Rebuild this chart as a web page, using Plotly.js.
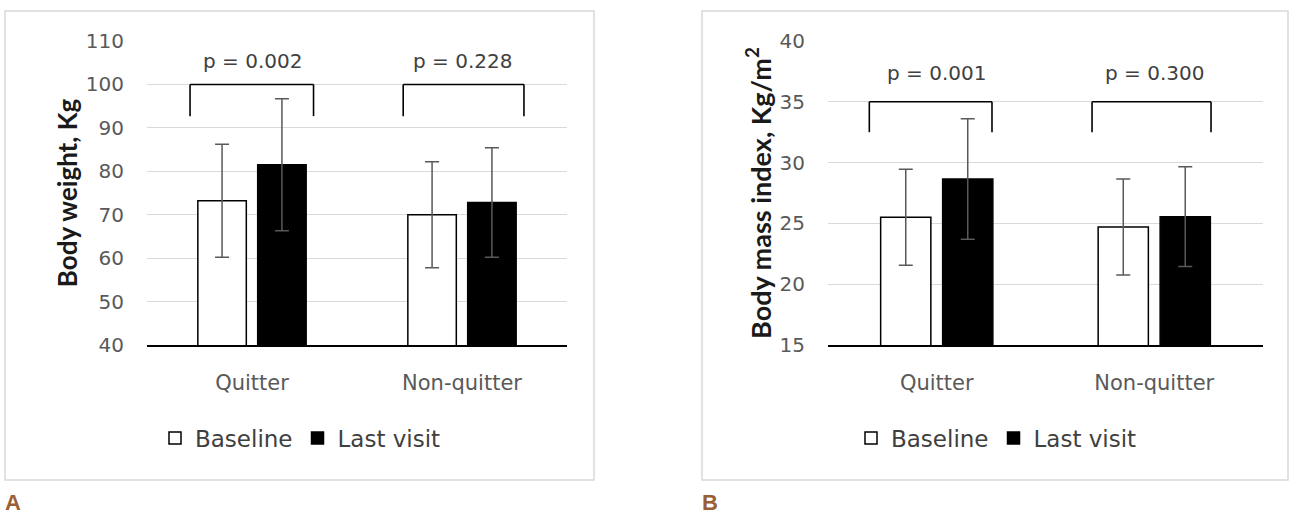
<!DOCTYPE html>
<html>
<head>
<meta charset="utf-8">
<script src="https://cdn.plot.ly/plotly-3.0.1.min.js"></script>
<style>
html,body{margin:0;padding:0;background:#fff;}
#chart{width:1293px;height:516px;}
</style>
</head>
<body>
<div id="chart"></div>
<script>
// ---- data ----
var groups = ["Quitter", "Non-quitter"];
var seriesNames = ["Baseline", "Last visit"];

// Panel A: body weight (Kg)
var weightBaseline = [73.2, 70.0];
var weightBaselineSD = [13.0, 12.2];
var weightLast = [81.5, 72.8];
var weightLastSD = [15.2, 12.6];
var weightP = ["p = 0.002", "p = 0.228"];
var weightTicks = [40, 50, 60, 70, 80, 90, 100, 110];

// Panel B: body mass index (Kg/m2)
var bmiBaseline = [25.5, 24.7];
var bmiBaselineSD = [3.95, 3.95];
var bmiLast = [28.65, 25.55];
var bmiLastSD = [4.95, 4.1];
var bmiP = ["p = 0.001", "p = 0.300"];
var bmiTicks = [15, 20, 25, 30, 35, 40];

var panelLabels = ["A", "B"];

// ---- helpers ----
var W = 1293, H = 516;
function px(x) { return x / W; }
function py(y) { return 1 - y / H; }

var FONT = "'DejaVu Sans', Verdana, sans-serif";
var TFONT = "Lato, 'Open Sans', sans-serif";
var errStyle = {type: "data", color: "#595959", thickness: 1.5, width: 7, visible: true};

function barTrace(name, xa, ya, vals, sd, fill, legendId) {
  return {
    type: "bar", name: name, x: groups, y: vals,
    xaxis: xa, yaxis: ya,
    marker: {color: fill, line: {color: "#000", width: 1.5}},
    error_y: Object.assign({array: sd}, errStyle),
    legend: legendId, showlegend: true, hoverinfo: "skip"
  };
}

var traces = [
  barTrace(seriesNames[0], "x", "y", weightBaseline, weightBaselineSD, "#ffffff", "legend"),
  barTrace(seriesNames[1], "x", "y", weightLast, weightLastSD, "#000000", "legend"),
  barTrace(seriesNames[0], "x2", "y2", bmiBaseline, bmiBaselineSD, "#ffffff", "legend2"),
  barTrace(seriesNames[1], "x2", "y2", bmiLast, bmiLastSD, "#000000", "legend2")
];

// significance brackets (category index units / data units)
function bracket(xref, yref, xl, xr, top, foot) {
  var ln = {color: "#000", width: 1.6};
  return [
    {type: "line", xref: xref, yref: yref, x0: xl, x1: xr, y0: top, y1: top, line: ln},
    {type: "line", xref: xref, yref: yref, x0: xl, x1: xl, y0: top, y1: foot, line: ln},
    {type: "line", xref: xref, yref: yref, x0: xr, x1: xr, y0: top, y1: foot, line: ln}
  ];
}

var shapes = [];
// panel frames
shapes.push({type: "rect", xref: "paper", yref: "paper", x0: px(5), x1: px(594), y0: py(480), y1: py(11), line: {color: "#d9d9d9", width: 1.5}, layer: "below"});
shapes.push({type: "rect", xref: "paper", yref: "paper", x0: px(702), x1: px(1288), y0: py(480), y1: py(11), line: {color: "#d9d9d9", width: 1.5}, layer: "below"});
shapes = shapes
  .concat(bracket("x", "y", -0.295, 0.293, 100, 92.7))
  .concat(bracket("x", "y", 0.72, 1.295, 100, 92.7))
  .concat(bracket("x2", "y2", -0.31, 0.254, 35, 32.5))
  .concat(bracket("x2", "y2", 0.714, 1.261, 35, 32.5));

var annotations = [];
for (var i = 0; i < groups.length; i++) {
  annotations.push({xref: "x", yref: "y", x: i, y: 105.5, text: weightP[i], showarrow: false,
    font: {family: FONT, size: 20, color: "#404040"}, xanchor: "center", yanchor: "middle"});
  annotations.push({xref: "x2", yref: "y2", x: i, y: 37.4, text: bmiP[i], showarrow: false,
    font: {family: FONT, size: 20, color: "#404040"}, xanchor: "center", yanchor: "middle"});
}
annotations.push({xref: "paper", yref: "paper", x: px(3), y: py(502), xanchor: "left", yanchor: "middle",
  text: "<b>" + panelLabels[0] + "</b>", showarrow: false, font: {family: "'Liberation Sans', Arial, sans-serif", size: 22, color: "#9c5f35"}});
annotations.push({xref: "paper", yref: "paper", x: px(700), y: py(502), xanchor: "left", yanchor: "middle",
  text: "<b>" + panelLabels[1] + "</b>", showarrow: false, font: {family: "'Liberation Sans', Arial, sans-serif", size: 22, color: "#9c5f35"}});

var tickFont = {family: FONT, size: 20, color: "#595959"};
var catFont = {family: FONT, size: 21, color: "#595959"};
var titleFont = {family: TFONT, size: 26, color: "#1a1a1a", weight: "bold"};

function xAxis(domain, anchor) {
  return {domain: domain, anchor: anchor, type: "category", showline: true, linecolor: "#000", linewidth: 1.6,
    showgrid: false, zeroline: false, ticks: "", tickfont: catFont, ticklabelstandoff: 18, fixedrange: true};
}
function yAxis(domain, anchor, range, ticks, title, standoff, size) {
  return {domain: domain, anchor: anchor, range: range, tickvals: ticks, ticktext: ticks.map(String),
    showgrid: true, gridcolor: "#d9d9d9", gridwidth: 1, zeroline: false, showline: false, ticks: "",
    tickfont: tickFont, ticklabelstandoff: 22, fixedrange: true,
    title: {text: title, font: Object.assign({}, titleFont, {size: size}), standoff: standoff}};
}

var yDom = [py(345), py(41)];
var legendFont = {family: FONT, size: 23, color: "#404040"};
var layout = {
  width: W, height: H,
  margin: {l: 0, r: 0, t: 0, b: 0},
  paper_bgcolor: "#fff", plot_bgcolor: "rgba(0,0,0,0)",
  barmode: "group", bargap: 0.43, bargroupgap: 0.19,
  xaxis: xAxis([px(147), px(567)], "y"),
  yaxis: yAxis(yDom, "x", [40, 110], weightTicks, "Body weight, Kg", 0, 26),
  xaxis2: xAxis([px(828), px(1263)], "y2"),
  yaxis2: yAxis(yDom, "x2", [15, 40], bmiTicks, "Body mass index, Kg/m<sup>2</sup>", 0, 27),
  legend: {orientation: "h", x: px(155), y: py(438), xanchor: "left", yanchor: "middle",
    font: legendFont, bgcolor: "rgba(0,0,0,0)", itemclick: false, itemdoubleclick: false},
  legend2: {orientation: "h", x: px(851), y: py(438), xanchor: "left", yanchor: "middle",
    font: legendFont, bgcolor: "rgba(0,0,0,0)", itemclick: false, itemdoubleclick: false},
  shapes: shapes,
  annotations: annotations,
  showlegend: true
};

Plotly.newPlot("chart", traces, layout, {displayModeBar: false, staticPlot: true});
</script>
</body>
</html>
